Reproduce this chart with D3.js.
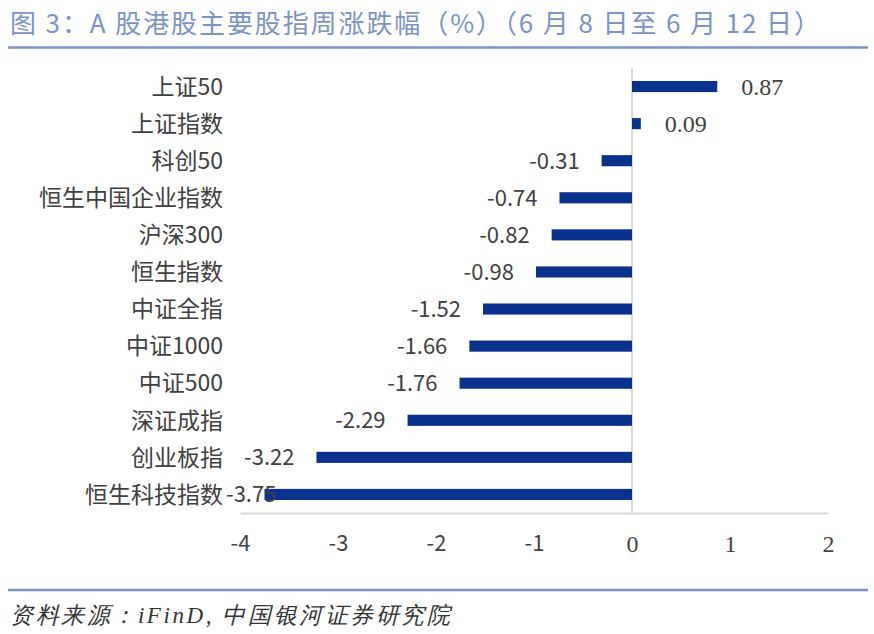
<!DOCTYPE html>
<html><head><meta charset="utf-8">
<script src="https://cdn.jsdelivr.net/npm/d3@7/dist/d3.min.js"></script>
<style>body{margin:0;background:#fff}svg{display:block}</style>
</head><body>
<svg id="c" width="874" height="634"></svg>
<script>
const categories = ["上证50","上证指数","科创50","恒生中国企业指数","沪深300","恒生指数","中证全指","中证1000","中证500","深证成指","创业板指","恒生科技指数"];
const values = [0.87,0.09,-0.31,-0.74,-0.82,-0.98,-1.52,-1.66,-1.76,-2.29,-3.22,-3.75];
const tickValues = [-4,-3,-2,-1,0,1,2];
const titleText = "图 3：A 股港股主要股指周涨跌幅（%）（6 月 8 日至 6 月 12 日）";
const sourceText = "资料来源：iFinD, 中国银河证券研究院";

const svg = d3.select("#c");
const sans = "'Noto Sans CJK SC','Noto Sans',sans-serif";
const serif = "'Liberation Serif','DejaVu Serif',serif";
const blue = "#7b93c5";

svg.append("text").attr("x",10).attr("y",33).attr("font-family",sans).attr("font-size",26)
  .attr("fill",blue).attr("textLength",810).attr("lengthAdjust","spacing").text(titleText);
svg.append("line").attr("x1",8).attr("x2",868).attr("y1",47.5).attr("y2",47.5).attr("stroke",blue).attr("stroke-width",2.5);
svg.append("line").attr("x1",8).attr("x2",868).attr("y1",590).attr("y2",590).attr("stroke",blue).attr("stroke-width",2.5);
svg.append("text").attr("x",10).attr("y",623).attr("font-family",serif).attr("font-style","italic")
  .attr("font-size",23).attr("fill","#333").attr("textLength",440).attr("lengthAdjust","spacing").text(sourceText);

const x = d3.scaleLinear().domain([-4,2]).range([240,828]);
const y = d3.scaleBand().domain(categories).range([68,513]).paddingInner(0.7).paddingOuter(0.35);

// axis
const ax = svg.append("g").attr("transform","translate(0,513)")
  .call(d3.axisBottom(x).tickValues(tickValues).tickSize(0).tickPadding(22).tickFormat(d3.format("d")));
ax.select(".domain").attr("stroke","#d9d9d9").attr("stroke-width",2);
ax.selectAll("text").attr("fill","#444")
  .attr("font-size", d => d < 0 ? 22 : 24)
  .attr("font-family", d => d < 0 ? sans : serif)
  .text(d => d < 0 ? "-" + Math.abs(d) : d);

svg.append("line").attr("x1",x(0)).attr("x2",x(0)).attr("y1",68).attr("y2",513)
  .attr("stroke","#d9d9d9").attr("stroke-width",2);

svg.selectAll("rect.bar").data(values).join("rect").attr("class","bar")
  .attr("x",d=>x(Math.min(0,d))).attr("width",d=>Math.abs(x(d)-x(0)))
  .attr("y",(d,i)=>y(categories[i])).attr("height",y.bandwidth())
  .attr("fill","#0b318f");

// category labels
svg.selectAll("text.cat").data(categories).join("text").attr("class","cat")
  .attr("x",223).attr("y",d=>y(d)+y.bandwidth()/2).attr("dy","0.36em")
  .attr("text-anchor","end").attr("font-family",sans).attr("font-size",23)
  .attr("fill","#404040")
  .text(d=>d);

// data labels
const lbl = svg.selectAll("text.lbl").data(values).join("text").attr("class","lbl")
  .attr("y",(d,i)=>y(categories[i])+y.bandwidth()/2)
  .attr("dy","0.36em")
  .attr("font-family",d=>d>=0?serif:sans)
  .attr("font-size",d=>d>=0?24:22)
  .attr("fill","#404040")
  .text(d=>d.toFixed(2));
lbl.each(function(d){
  const t = d3.select(this);
  if (d >= 0) { t.attr("x", x(d)+24).attr("text-anchor","start"); return; }
  const w = this.getComputedTextLength();
  const endX = x(d) - 22;
  if (endX - w < 226) t.attr("x", 226).attr("text-anchor","start");
  else t.attr("x", endX).attr("text-anchor","end");
});
</script>
</body></html>
